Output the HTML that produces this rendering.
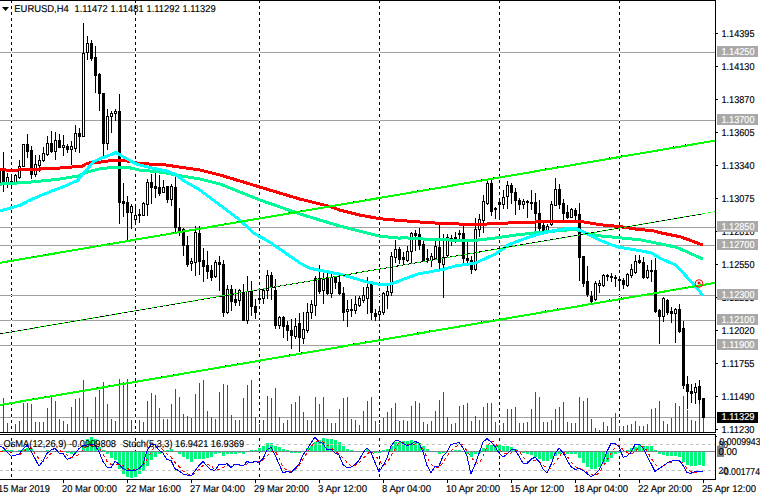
<!DOCTYPE html><html><head><meta charset="utf-8"><style>html,body{margin:0;padding:0;background:#fff;width:760px;height:498px;overflow:hidden}</style></head><body><svg width="760" height="498" viewBox="0 0 760 498" style="display:block;text-rendering:geometricPrecision">
<rect x="0" y="0" width="760" height="498" fill="#ffffff"/>
<g shape-rendering="crispEdges">
<line x1="11.5" y1="0" x2="11.5" y2="432" stroke="#000" stroke-width="1" stroke-dasharray="3 3"/>
<line x1="11.5" y1="438" x2="11.5" y2="478" stroke="#000" stroke-width="1" stroke-dasharray="3 3"/>
<line x1="135.5" y1="0" x2="135.5" y2="432" stroke="#000" stroke-width="1" stroke-dasharray="3 3"/>
<line x1="135.5" y1="438" x2="135.5" y2="478" stroke="#000" stroke-width="1" stroke-dasharray="3 3"/>
<line x1="259.5" y1="0" x2="259.5" y2="432" stroke="#000" stroke-width="1" stroke-dasharray="3 3"/>
<line x1="259.5" y1="438" x2="259.5" y2="478" stroke="#000" stroke-width="1" stroke-dasharray="3 3"/>
<line x1="379.5" y1="0" x2="379.5" y2="432" stroke="#000" stroke-width="1" stroke-dasharray="3 3"/>
<line x1="379.5" y1="438" x2="379.5" y2="478" stroke="#000" stroke-width="1" stroke-dasharray="3 3"/>
<line x1="499.5" y1="0" x2="499.5" y2="432" stroke="#000" stroke-width="1" stroke-dasharray="3 3"/>
<line x1="499.5" y1="438" x2="499.5" y2="478" stroke="#000" stroke-width="1" stroke-dasharray="3 3"/>
<line x1="619.5" y1="0" x2="619.5" y2="432" stroke="#000" stroke-width="1" stroke-dasharray="3 3"/>
<line x1="619.5" y1="438" x2="619.5" y2="478" stroke="#000" stroke-width="1" stroke-dasharray="3 3"/>
<rect x="0" y="52" width="715" height="1" fill="#a0a0a0"/>
<rect x="11" y="52" width="1" height="1" fill="#fff"/>
<rect x="135" y="52" width="1" height="1" fill="#fff"/>
<rect x="259" y="52" width="1" height="1" fill="#fff"/>
<rect x="379" y="52" width="1" height="1" fill="#fff"/>
<rect x="499" y="52" width="1" height="1" fill="#fff"/>
<rect x="619" y="52" width="1" height="1" fill="#fff"/>
<rect x="0" y="120" width="715" height="1" fill="#a0a0a0"/>
<rect x="11" y="120" width="1" height="1" fill="#fff"/>
<rect x="135" y="120" width="1" height="1" fill="#fff"/>
<rect x="259" y="120" width="1" height="1" fill="#fff"/>
<rect x="379" y="120" width="1" height="1" fill="#fff"/>
<rect x="499" y="120" width="1" height="1" fill="#fff"/>
<rect x="619" y="120" width="1" height="1" fill="#fff"/>
<rect x="0" y="227" width="715" height="1" fill="#a0a0a0"/>
<rect x="11" y="227" width="1" height="1" fill="#fff"/>
<rect x="135" y="227" width="1" height="1" fill="#fff"/>
<rect x="259" y="227" width="1" height="1" fill="#fff"/>
<rect x="379" y="227" width="1" height="1" fill="#fff"/>
<rect x="499" y="227" width="1" height="1" fill="#fff"/>
<rect x="619" y="227" width="1" height="1" fill="#fff"/>
<rect x="0" y="245" width="715" height="1" fill="#a0a0a0"/>
<rect x="11" y="245" width="1" height="1" fill="#fff"/>
<rect x="135" y="245" width="1" height="1" fill="#fff"/>
<rect x="259" y="245" width="1" height="1" fill="#fff"/>
<rect x="379" y="245" width="1" height="1" fill="#fff"/>
<rect x="499" y="245" width="1" height="1" fill="#fff"/>
<rect x="619" y="245" width="1" height="1" fill="#fff"/>
<rect x="0" y="295" width="715" height="1" fill="#a0a0a0"/>
<rect x="11" y="295" width="1" height="1" fill="#fff"/>
<rect x="135" y="295" width="1" height="1" fill="#fff"/>
<rect x="259" y="295" width="1" height="1" fill="#fff"/>
<rect x="379" y="295" width="1" height="1" fill="#fff"/>
<rect x="499" y="295" width="1" height="1" fill="#fff"/>
<rect x="619" y="295" width="1" height="1" fill="#fff"/>
<rect x="0" y="320" width="715" height="1" fill="#a0a0a0"/>
<rect x="11" y="320" width="1" height="1" fill="#fff"/>
<rect x="135" y="320" width="1" height="1" fill="#fff"/>
<rect x="259" y="320" width="1" height="1" fill="#fff"/>
<rect x="379" y="320" width="1" height="1" fill="#fff"/>
<rect x="499" y="320" width="1" height="1" fill="#fff"/>
<rect x="619" y="320" width="1" height="1" fill="#fff"/>
<rect x="0" y="345" width="715" height="1" fill="#a0a0a0"/>
<rect x="11" y="345" width="1" height="1" fill="#fff"/>
<rect x="135" y="345" width="1" height="1" fill="#fff"/>
<rect x="259" y="345" width="1" height="1" fill="#fff"/>
<rect x="379" y="345" width="1" height="1" fill="#fff"/>
<rect x="499" y="345" width="1" height="1" fill="#fff"/>
<rect x="619" y="345" width="1" height="1" fill="#fff"/>
<rect x="0" y="417" width="715" height="1" fill="#a0a0a0"/>
<rect x="11" y="417" width="1" height="1" fill="#fff"/>
<rect x="135" y="417" width="1" height="1" fill="#fff"/>
<rect x="259" y="417" width="1" height="1" fill="#fff"/>
<rect x="379" y="417" width="1" height="1" fill="#fff"/>
<rect x="499" y="417" width="1" height="1" fill="#fff"/>
<rect x="619" y="417" width="1" height="1" fill="#fff"/>
<rect x="3" y="398" width="1" height="34" fill="#008000"/>
<rect x="7" y="423" width="1" height="9" fill="#008000"/>
<rect x="15" y="424" width="1" height="8" fill="#008000"/>
<rect x="19" y="421" width="1" height="11" fill="#008000"/>
<rect x="23" y="403" width="1" height="29" fill="#008000"/>
<rect x="27" y="403" width="1" height="29" fill="#008000"/>
<rect x="31" y="404" width="1" height="28" fill="#008000"/>
<rect x="35" y="422" width="1" height="10" fill="#008000"/>
<rect x="39" y="422" width="1" height="10" fill="#008000"/>
<rect x="43" y="422" width="1" height="10" fill="#008000"/>
<rect x="47" y="408" width="1" height="24" fill="#008000"/>
<rect x="51" y="397" width="1" height="35" fill="#008000"/>
<rect x="55" y="401" width="1" height="31" fill="#008000"/>
<rect x="59" y="419" width="1" height="13" fill="#008000"/>
<rect x="63" y="421" width="1" height="11" fill="#008000"/>
<rect x="67" y="424" width="1" height="8" fill="#008000"/>
<rect x="71" y="407" width="1" height="25" fill="#008000"/>
<rect x="75" y="399" width="1" height="33" fill="#008000"/>
<rect x="79" y="398" width="1" height="34" fill="#008000"/>
<rect x="83" y="380" width="1" height="52" fill="#008000"/>
<rect x="87" y="417" width="1" height="15" fill="#008000"/>
<rect x="91" y="419" width="1" height="13" fill="#008000"/>
<rect x="95" y="397" width="1" height="35" fill="#008000"/>
<rect x="99" y="390" width="1" height="42" fill="#008000"/>
<rect x="103" y="382" width="1" height="50" fill="#008000"/>
<rect x="107" y="404" width="1" height="28" fill="#008000"/>
<rect x="111" y="419" width="1" height="13" fill="#008000"/>
<rect x="115" y="421" width="1" height="11" fill="#008000"/>
<rect x="119" y="379" width="1" height="53" fill="#008000"/>
<rect x="123" y="382" width="1" height="50" fill="#008000"/>
<rect x="127" y="379" width="1" height="53" fill="#008000"/>
<rect x="131" y="420" width="1" height="12" fill="#008000"/>
<rect x="135" y="431" width="1" height="1" fill="#008000"/>
<rect x="139" y="420" width="1" height="12" fill="#008000"/>
<rect x="143" y="422" width="1" height="10" fill="#008000"/>
<rect x="147" y="401" width="1" height="31" fill="#008000"/>
<rect x="151" y="393" width="1" height="39" fill="#008000"/>
<rect x="155" y="395" width="1" height="37" fill="#008000"/>
<rect x="159" y="408" width="1" height="24" fill="#008000"/>
<rect x="163" y="419" width="1" height="13" fill="#008000"/>
<rect x="167" y="419" width="1" height="13" fill="#008000"/>
<rect x="171" y="404" width="1" height="28" fill="#008000"/>
<rect x="175" y="389" width="1" height="43" fill="#008000"/>
<rect x="179" y="397" width="1" height="35" fill="#008000"/>
<rect x="183" y="414" width="1" height="18" fill="#008000"/>
<rect x="187" y="416" width="1" height="16" fill="#008000"/>
<rect x="191" y="418" width="1" height="14" fill="#008000"/>
<rect x="195" y="394" width="1" height="38" fill="#008000"/>
<rect x="199" y="383" width="1" height="49" fill="#008000"/>
<rect x="203" y="380" width="1" height="52" fill="#008000"/>
<rect x="207" y="411" width="1" height="21" fill="#008000"/>
<rect x="211" y="417" width="1" height="15" fill="#008000"/>
<rect x="215" y="419" width="1" height="13" fill="#008000"/>
<rect x="219" y="392" width="1" height="40" fill="#008000"/>
<rect x="223" y="384" width="1" height="48" fill="#008000"/>
<rect x="227" y="385" width="1" height="47" fill="#008000"/>
<rect x="231" y="415" width="1" height="17" fill="#008000"/>
<rect x="235" y="420" width="1" height="12" fill="#008000"/>
<rect x="239" y="420" width="1" height="12" fill="#008000"/>
<rect x="243" y="398" width="1" height="34" fill="#008000"/>
<rect x="247" y="385" width="1" height="47" fill="#008000"/>
<rect x="251" y="380" width="1" height="52" fill="#008000"/>
<rect x="255" y="417" width="1" height="15" fill="#008000"/>
<rect x="259" y="424" width="1" height="8" fill="#008000"/>
<rect x="263" y="420" width="1" height="12" fill="#008000"/>
<rect x="267" y="396" width="1" height="36" fill="#008000"/>
<rect x="271" y="398" width="1" height="34" fill="#008000"/>
<rect x="275" y="388" width="1" height="44" fill="#008000"/>
<rect x="279" y="417" width="1" height="15" fill="#008000"/>
<rect x="283" y="423" width="1" height="9" fill="#008000"/>
<rect x="287" y="420" width="1" height="12" fill="#008000"/>
<rect x="291" y="404" width="1" height="28" fill="#008000"/>
<rect x="295" y="402" width="1" height="30" fill="#008000"/>
<rect x="299" y="396" width="1" height="36" fill="#008000"/>
<rect x="303" y="412" width="1" height="20" fill="#008000"/>
<rect x="307" y="420" width="1" height="12" fill="#008000"/>
<rect x="311" y="420" width="1" height="12" fill="#008000"/>
<rect x="315" y="397" width="1" height="35" fill="#008000"/>
<rect x="319" y="404" width="1" height="28" fill="#008000"/>
<rect x="323" y="397" width="1" height="35" fill="#008000"/>
<rect x="327" y="419" width="1" height="13" fill="#008000"/>
<rect x="331" y="423" width="1" height="9" fill="#008000"/>
<rect x="335" y="423" width="1" height="9" fill="#008000"/>
<rect x="339" y="409" width="1" height="23" fill="#008000"/>
<rect x="343" y="398" width="1" height="34" fill="#008000"/>
<rect x="347" y="397" width="1" height="35" fill="#008000"/>
<rect x="351" y="419" width="1" height="13" fill="#008000"/>
<rect x="355" y="420" width="1" height="12" fill="#008000"/>
<rect x="359" y="425" width="1" height="7" fill="#008000"/>
<rect x="363" y="411" width="1" height="21" fill="#008000"/>
<rect x="367" y="401" width="1" height="31" fill="#008000"/>
<rect x="371" y="397" width="1" height="35" fill="#008000"/>
<rect x="375" y="421" width="1" height="11" fill="#008000"/>
<rect x="379" y="424" width="1" height="8" fill="#008000"/>
<rect x="383" y="418" width="1" height="14" fill="#008000"/>
<rect x="387" y="412" width="1" height="20" fill="#008000"/>
<rect x="391" y="408" width="1" height="24" fill="#008000"/>
<rect x="395" y="403" width="1" height="29" fill="#008000"/>
<rect x="399" y="421" width="1" height="11" fill="#008000"/>
<rect x="403" y="420" width="1" height="12" fill="#008000"/>
<rect x="407" y="421" width="1" height="11" fill="#008000"/>
<rect x="411" y="406" width="1" height="26" fill="#008000"/>
<rect x="415" y="401" width="1" height="31" fill="#008000"/>
<rect x="419" y="403" width="1" height="29" fill="#008000"/>
<rect x="423" y="422" width="1" height="10" fill="#008000"/>
<rect x="427" y="424" width="1" height="8" fill="#008000"/>
<rect x="431" y="421" width="1" height="11" fill="#008000"/>
<rect x="435" y="411" width="1" height="21" fill="#008000"/>
<rect x="439" y="400" width="1" height="32" fill="#008000"/>
<rect x="443" y="392" width="1" height="40" fill="#008000"/>
<rect x="447" y="417" width="1" height="15" fill="#008000"/>
<rect x="451" y="424" width="1" height="8" fill="#008000"/>
<rect x="455" y="423" width="1" height="9" fill="#008000"/>
<rect x="459" y="406" width="1" height="26" fill="#008000"/>
<rect x="463" y="405" width="1" height="27" fill="#008000"/>
<rect x="467" y="403" width="1" height="29" fill="#008000"/>
<rect x="471" y="421" width="1" height="11" fill="#008000"/>
<rect x="475" y="416" width="1" height="16" fill="#008000"/>
<rect x="479" y="420" width="1" height="12" fill="#008000"/>
<rect x="483" y="407" width="1" height="25" fill="#008000"/>
<rect x="487" y="403" width="1" height="29" fill="#008000"/>
<rect x="491" y="403" width="1" height="29" fill="#008000"/>
<rect x="495" y="422" width="1" height="10" fill="#008000"/>
<rect x="499" y="425" width="1" height="7" fill="#008000"/>
<rect x="503" y="423" width="1" height="9" fill="#008000"/>
<rect x="507" y="409" width="1" height="23" fill="#008000"/>
<rect x="511" y="409" width="1" height="23" fill="#008000"/>
<rect x="515" y="407" width="1" height="25" fill="#008000"/>
<rect x="519" y="423" width="1" height="9" fill="#008000"/>
<rect x="523" y="423" width="1" height="9" fill="#008000"/>
<rect x="527" y="422" width="1" height="10" fill="#008000"/>
<rect x="531" y="409" width="1" height="23" fill="#008000"/>
<rect x="535" y="392" width="1" height="40" fill="#008000"/>
<rect x="539" y="397" width="1" height="35" fill="#008000"/>
<rect x="543" y="422" width="1" height="10" fill="#008000"/>
<rect x="547" y="422" width="1" height="10" fill="#008000"/>
<rect x="551" y="420" width="1" height="12" fill="#008000"/>
<rect x="555" y="409" width="1" height="23" fill="#008000"/>
<rect x="559" y="407" width="1" height="25" fill="#008000"/>
<rect x="563" y="402" width="1" height="30" fill="#008000"/>
<rect x="567" y="422" width="1" height="10" fill="#008000"/>
<rect x="571" y="423" width="1" height="9" fill="#008000"/>
<rect x="575" y="423" width="1" height="9" fill="#008000"/>
<rect x="579" y="397" width="1" height="35" fill="#008000"/>
<rect x="583" y="401" width="1" height="31" fill="#008000"/>
<rect x="587" y="398" width="1" height="34" fill="#008000"/>
<rect x="591" y="419" width="1" height="13" fill="#008000"/>
<rect x="595" y="428" width="1" height="4" fill="#008000"/>
<rect x="599" y="430" width="1" height="2" fill="#008000"/>
<rect x="603" y="422" width="1" height="10" fill="#008000"/>
<rect x="607" y="426" width="1" height="6" fill="#008000"/>
<rect x="611" y="418" width="1" height="14" fill="#008000"/>
<rect x="615" y="413" width="1" height="19" fill="#008000"/>
<rect x="619" y="426" width="1" height="6" fill="#008000"/>
<rect x="623" y="426" width="1" height="6" fill="#008000"/>
<rect x="627" y="425" width="1" height="7" fill="#008000"/>
<rect x="631" y="424" width="1" height="8" fill="#008000"/>
<rect x="635" y="421" width="1" height="11" fill="#008000"/>
<rect x="639" y="426" width="1" height="6" fill="#008000"/>
<rect x="643" y="426" width="1" height="6" fill="#008000"/>
<rect x="647" y="424" width="1" height="8" fill="#008000"/>
<rect x="651" y="409" width="1" height="23" fill="#008000"/>
<rect x="655" y="408" width="1" height="24" fill="#008000"/>
<rect x="659" y="401" width="1" height="31" fill="#008000"/>
<rect x="663" y="421" width="1" height="11" fill="#008000"/>
<rect x="667" y="424" width="1" height="8" fill="#008000"/>
<rect x="671" y="418" width="1" height="14" fill="#008000"/>
<rect x="675" y="403" width="1" height="29" fill="#008000"/>
<rect x="679" y="406" width="1" height="26" fill="#008000"/>
<rect x="683" y="396" width="1" height="36" fill="#008000"/>
<rect x="687" y="410" width="1" height="22" fill="#008000"/>
<rect x="691" y="420" width="1" height="12" fill="#008000"/>
<rect x="695" y="421" width="1" height="11" fill="#008000"/>
<rect x="699" y="403" width="1" height="29" fill="#008000"/>
<rect x="703" y="418" width="1" height="14" fill="#008000"/>
<rect x="-1" y="160" width="1" height="29" fill="#000"/>
<rect x="-2" y="170" width="3" height="13" fill="#000"/>
<rect x="3" y="152" width="1" height="40" fill="#000"/>
<rect x="2" y="171" width="3" height="12" fill="#000"/>
<rect x="7" y="173" width="1" height="15" fill="#000"/>
<rect x="6" y="177" width="3" height="6" fill="#000"/>
<rect x="7" y="178" width="1" height="4" fill="#fff"/>
<rect x="11" y="176" width="1" height="13" fill="#000"/>
<rect x="10" y="181" width="3" height="3" fill="#000"/>
<rect x="11" y="182" width="1" height="1" fill="#fff"/>
<rect x="15" y="174" width="1" height="10" fill="#000"/>
<rect x="14" y="175" width="3" height="8" fill="#000"/>
<rect x="15" y="176" width="1" height="6" fill="#fff"/>
<rect x="19" y="160" width="1" height="19" fill="#000"/>
<rect x="18" y="166" width="3" height="12" fill="#000"/>
<rect x="19" y="167" width="1" height="10" fill="#fff"/>
<rect x="23" y="144" width="1" height="23" fill="#000"/>
<rect x="22" y="144" width="3" height="23" fill="#000"/>
<rect x="23" y="145" width="1" height="21" fill="#fff"/>
<rect x="27" y="134" width="1" height="24" fill="#000"/>
<rect x="26" y="144" width="3" height="8" fill="#000"/>
<rect x="31" y="146" width="1" height="33" fill="#000"/>
<rect x="30" y="150" width="3" height="25" fill="#000"/>
<rect x="35" y="155" width="1" height="22" fill="#000"/>
<rect x="34" y="164" width="3" height="11" fill="#000"/>
<rect x="35" y="165" width="1" height="9" fill="#fff"/>
<rect x="39" y="155" width="1" height="17" fill="#000"/>
<rect x="38" y="160" width="3" height="6" fill="#000"/>
<rect x="39" y="161" width="1" height="4" fill="#fff"/>
<rect x="43" y="147" width="1" height="15" fill="#000"/>
<rect x="42" y="153" width="3" height="8" fill="#000"/>
<rect x="43" y="154" width="1" height="6" fill="#fff"/>
<rect x="47" y="136" width="1" height="20" fill="#000"/>
<rect x="46" y="143" width="3" height="12" fill="#000"/>
<rect x="47" y="144" width="1" height="10" fill="#fff"/>
<rect x="51" y="131" width="1" height="22" fill="#000"/>
<rect x="50" y="143" width="3" height="9" fill="#000"/>
<rect x="55" y="132" width="1" height="28" fill="#000"/>
<rect x="54" y="140" width="3" height="12" fill="#000"/>
<rect x="55" y="141" width="1" height="10" fill="#fff"/>
<rect x="59" y="134" width="1" height="14" fill="#000"/>
<rect x="58" y="140" width="3" height="8" fill="#000"/>
<rect x="63" y="135" width="1" height="21" fill="#000"/>
<rect x="62" y="145" width="3" height="3" fill="#000"/>
<rect x="63" y="146" width="1" height="1" fill="#fff"/>
<rect x="67" y="144" width="1" height="9" fill="#000"/>
<rect x="66" y="146" width="3" height="4" fill="#000"/>
<rect x="71" y="141" width="1" height="24" fill="#000"/>
<rect x="70" y="146" width="3" height="4" fill="#000"/>
<rect x="71" y="147" width="1" height="2" fill="#fff"/>
<rect x="75" y="125" width="1" height="27" fill="#000"/>
<rect x="74" y="133" width="3" height="16" fill="#000"/>
<rect x="75" y="134" width="1" height="14" fill="#fff"/>
<rect x="79" y="128" width="1" height="25" fill="#000"/>
<rect x="78" y="133" width="3" height="4" fill="#000"/>
<rect x="83" y="23" width="1" height="114" fill="#000"/>
<rect x="82" y="53" width="3" height="84" fill="#000"/>
<rect x="83" y="54" width="1" height="82" fill="#fff"/>
<rect x="87" y="36" width="1" height="24" fill="#000"/>
<rect x="86" y="43" width="3" height="10" fill="#000"/>
<rect x="87" y="44" width="1" height="8" fill="#fff"/>
<rect x="91" y="40" width="1" height="21" fill="#000"/>
<rect x="90" y="43" width="3" height="16" fill="#000"/>
<rect x="95" y="46" width="1" height="47" fill="#000"/>
<rect x="94" y="57" width="3" height="19" fill="#000"/>
<rect x="99" y="73" width="1" height="38" fill="#000"/>
<rect x="98" y="74" width="3" height="20" fill="#000"/>
<rect x="103" y="93" width="1" height="64" fill="#000"/>
<rect x="102" y="93" width="3" height="51" fill="#000"/>
<rect x="107" y="109" width="1" height="41" fill="#000"/>
<rect x="106" y="116" width="3" height="28" fill="#000"/>
<rect x="107" y="117" width="1" height="26" fill="#fff"/>
<rect x="111" y="111" width="1" height="22" fill="#000"/>
<rect x="110" y="113" width="3" height="4" fill="#000"/>
<rect x="111" y="114" width="1" height="2" fill="#fff"/>
<rect x="115" y="109" width="1" height="12" fill="#000"/>
<rect x="114" y="111" width="3" height="3" fill="#000"/>
<rect x="115" y="112" width="1" height="1" fill="#fff"/>
<rect x="119" y="94" width="1" height="130" fill="#000"/>
<rect x="118" y="111" width="3" height="92" fill="#000"/>
<rect x="123" y="183" width="1" height="34" fill="#000"/>
<rect x="122" y="201" width="3" height="3" fill="#000"/>
<rect x="127" y="196" width="1" height="45" fill="#000"/>
<rect x="126" y="202" width="3" height="11" fill="#000"/>
<rect x="131" y="204" width="1" height="25" fill="#000"/>
<rect x="130" y="206" width="3" height="7" fill="#000"/>
<rect x="131" y="207" width="1" height="5" fill="#fff"/>
<rect x="135" y="204" width="1" height="21" fill="#000"/>
<rect x="134" y="215" width="3" height="5" fill="#000"/>
<rect x="135" y="216" width="1" height="3" fill="#fff"/>
<rect x="139" y="209" width="1" height="14" fill="#000"/>
<rect x="138" y="214" width="3" height="2" fill="#000"/>
<rect x="143" y="202" width="1" height="14" fill="#000"/>
<rect x="142" y="203" width="3" height="13" fill="#000"/>
<rect x="143" y="204" width="1" height="11" fill="#fff"/>
<rect x="147" y="179" width="1" height="37" fill="#000"/>
<rect x="146" y="182" width="3" height="23" fill="#000"/>
<rect x="147" y="183" width="1" height="21" fill="#fff"/>
<rect x="151" y="174" width="1" height="30" fill="#000"/>
<rect x="150" y="182" width="3" height="6" fill="#000"/>
<rect x="155" y="173" width="1" height="25" fill="#000"/>
<rect x="154" y="186" width="3" height="3" fill="#000"/>
<rect x="159" y="175" width="1" height="21" fill="#000"/>
<rect x="158" y="187" width="3" height="7" fill="#000"/>
<rect x="163" y="180" width="1" height="13" fill="#000"/>
<rect x="162" y="187" width="3" height="6" fill="#000"/>
<rect x="163" y="188" width="1" height="4" fill="#fff"/>
<rect x="167" y="186" width="1" height="17" fill="#000"/>
<rect x="166" y="186" width="3" height="14" fill="#000"/>
<rect x="171" y="184" width="1" height="22" fill="#000"/>
<rect x="170" y="186" width="3" height="14" fill="#000"/>
<rect x="171" y="187" width="1" height="12" fill="#fff"/>
<rect x="175" y="176" width="1" height="57" fill="#000"/>
<rect x="174" y="187" width="3" height="41" fill="#000"/>
<rect x="179" y="208" width="1" height="28" fill="#000"/>
<rect x="178" y="227" width="3" height="4" fill="#000"/>
<rect x="183" y="228" width="1" height="28" fill="#000"/>
<rect x="182" y="229" width="3" height="17" fill="#000"/>
<rect x="187" y="236" width="1" height="31" fill="#000"/>
<rect x="186" y="245" width="3" height="20" fill="#000"/>
<rect x="191" y="258" width="1" height="13" fill="#000"/>
<rect x="190" y="261" width="3" height="3" fill="#000"/>
<rect x="191" y="262" width="1" height="1" fill="#fff"/>
<rect x="195" y="226" width="1" height="50" fill="#000"/>
<rect x="194" y="232" width="3" height="31" fill="#000"/>
<rect x="195" y="233" width="1" height="29" fill="#fff"/>
<rect x="199" y="226" width="1" height="49" fill="#000"/>
<rect x="198" y="233" width="3" height="29" fill="#000"/>
<rect x="203" y="248" width="1" height="34" fill="#000"/>
<rect x="202" y="260" width="3" height="7" fill="#000"/>
<rect x="207" y="251" width="1" height="28" fill="#000"/>
<rect x="206" y="265" width="3" height="7" fill="#000"/>
<rect x="211" y="265" width="1" height="16" fill="#000"/>
<rect x="210" y="270" width="3" height="8" fill="#000"/>
<rect x="215" y="260" width="1" height="18" fill="#000"/>
<rect x="214" y="262" width="3" height="15" fill="#000"/>
<rect x="215" y="263" width="1" height="13" fill="#fff"/>
<rect x="219" y="256" width="1" height="35" fill="#000"/>
<rect x="218" y="262" width="3" height="3" fill="#000"/>
<rect x="223" y="260" width="1" height="57" fill="#000"/>
<rect x="222" y="264" width="3" height="49" fill="#000"/>
<rect x="227" y="285" width="1" height="29" fill="#000"/>
<rect x="226" y="289" width="3" height="24" fill="#000"/>
<rect x="227" y="290" width="1" height="22" fill="#fff"/>
<rect x="231" y="285" width="1" height="26" fill="#000"/>
<rect x="230" y="289" width="3" height="13" fill="#000"/>
<rect x="235" y="289" width="1" height="17" fill="#000"/>
<rect x="234" y="299" width="3" height="4" fill="#000"/>
<rect x="239" y="289" width="1" height="17" fill="#000"/>
<rect x="238" y="290" width="3" height="11" fill="#000"/>
<rect x="239" y="291" width="1" height="9" fill="#fff"/>
<rect x="243" y="284" width="1" height="37" fill="#000"/>
<rect x="242" y="292" width="3" height="29" fill="#000"/>
<rect x="247" y="276" width="1" height="48" fill="#000"/>
<rect x="246" y="291" width="3" height="30" fill="#000"/>
<rect x="247" y="292" width="1" height="28" fill="#fff"/>
<rect x="251" y="281" width="1" height="35" fill="#000"/>
<rect x="250" y="291" width="3" height="16" fill="#000"/>
<rect x="255" y="299" width="1" height="20" fill="#000"/>
<rect x="254" y="306" width="3" height="7" fill="#000"/>
<rect x="259" y="290" width="1" height="14" fill="#000"/>
<rect x="258" y="298" width="3" height="2" fill="#000"/>
<rect x="263" y="288" width="1" height="16" fill="#000"/>
<rect x="262" y="290" width="3" height="9" fill="#000"/>
<rect x="263" y="291" width="1" height="7" fill="#fff"/>
<rect x="267" y="270" width="1" height="29" fill="#000"/>
<rect x="266" y="275" width="3" height="16" fill="#000"/>
<rect x="267" y="276" width="1" height="14" fill="#fff"/>
<rect x="271" y="272" width="1" height="28" fill="#000"/>
<rect x="270" y="275" width="3" height="13" fill="#000"/>
<rect x="275" y="279" width="1" height="50" fill="#000"/>
<rect x="274" y="290" width="3" height="36" fill="#000"/>
<rect x="279" y="316" width="1" height="13" fill="#000"/>
<rect x="278" y="317" width="3" height="9" fill="#000"/>
<rect x="279" y="318" width="1" height="7" fill="#fff"/>
<rect x="283" y="316" width="1" height="22" fill="#000"/>
<rect x="282" y="317" width="3" height="10" fill="#000"/>
<rect x="287" y="321" width="1" height="20" fill="#000"/>
<rect x="286" y="325" width="3" height="6" fill="#000"/>
<rect x="291" y="319" width="1" height="30" fill="#000"/>
<rect x="290" y="330" width="3" height="6" fill="#000"/>
<rect x="295" y="318" width="1" height="21" fill="#000"/>
<rect x="294" y="326" width="3" height="11" fill="#000"/>
<rect x="295" y="327" width="1" height="9" fill="#fff"/>
<rect x="299" y="313" width="1" height="39" fill="#000"/>
<rect x="298" y="323" width="3" height="15" fill="#000"/>
<rect x="303" y="312" width="1" height="32" fill="#000"/>
<rect x="302" y="329" width="3" height="10" fill="#000"/>
<rect x="303" y="330" width="1" height="8" fill="#fff"/>
<rect x="307" y="303" width="1" height="30" fill="#000"/>
<rect x="306" y="312" width="3" height="19" fill="#000"/>
<rect x="307" y="313" width="1" height="17" fill="#fff"/>
<rect x="311" y="300" width="1" height="19" fill="#000"/>
<rect x="310" y="304" width="3" height="9" fill="#000"/>
<rect x="311" y="305" width="1" height="7" fill="#fff"/>
<rect x="315" y="276" width="1" height="40" fill="#000"/>
<rect x="314" y="278" width="3" height="28" fill="#000"/>
<rect x="315" y="279" width="1" height="26" fill="#fff"/>
<rect x="319" y="265" width="1" height="29" fill="#000"/>
<rect x="318" y="278" width="3" height="14" fill="#000"/>
<rect x="323" y="272" width="1" height="32" fill="#000"/>
<rect x="322" y="279" width="3" height="12" fill="#000"/>
<rect x="323" y="280" width="1" height="10" fill="#fff"/>
<rect x="327" y="273" width="1" height="22" fill="#000"/>
<rect x="326" y="277" width="3" height="17" fill="#000"/>
<rect x="331" y="273" width="1" height="25" fill="#000"/>
<rect x="330" y="277" width="3" height="17" fill="#000"/>
<rect x="331" y="278" width="1" height="15" fill="#fff"/>
<rect x="335" y="276" width="1" height="13" fill="#000"/>
<rect x="334" y="276" width="3" height="7" fill="#000"/>
<rect x="339" y="275" width="1" height="20" fill="#000"/>
<rect x="338" y="282" width="3" height="12" fill="#000"/>
<rect x="343" y="287" width="1" height="34" fill="#000"/>
<rect x="342" y="293" width="3" height="20" fill="#000"/>
<rect x="347" y="300" width="1" height="27" fill="#000"/>
<rect x="346" y="309" width="3" height="3" fill="#000"/>
<rect x="347" y="310" width="1" height="1" fill="#fff"/>
<rect x="351" y="299" width="1" height="18" fill="#000"/>
<rect x="350" y="309" width="3" height="2" fill="#000"/>
<rect x="355" y="296" width="1" height="18" fill="#000"/>
<rect x="354" y="304" width="3" height="7" fill="#000"/>
<rect x="355" y="305" width="1" height="5" fill="#fff"/>
<rect x="359" y="296" width="1" height="11" fill="#000"/>
<rect x="358" y="298" width="3" height="8" fill="#000"/>
<rect x="359" y="299" width="1" height="6" fill="#fff"/>
<rect x="363" y="287" width="1" height="16" fill="#000"/>
<rect x="362" y="295" width="3" height="6" fill="#000"/>
<rect x="363" y="296" width="1" height="4" fill="#fff"/>
<rect x="367" y="277" width="1" height="37" fill="#000"/>
<rect x="366" y="287" width="3" height="12" fill="#000"/>
<rect x="367" y="288" width="1" height="10" fill="#fff"/>
<rect x="371" y="283" width="1" height="37" fill="#000"/>
<rect x="370" y="284" width="3" height="29" fill="#000"/>
<rect x="375" y="309" width="1" height="12" fill="#000"/>
<rect x="374" y="313" width="3" height="4" fill="#000"/>
<rect x="379" y="306" width="1" height="15" fill="#000"/>
<rect x="378" y="311" width="3" height="4" fill="#000"/>
<rect x="379" y="312" width="1" height="2" fill="#fff"/>
<rect x="383" y="292" width="1" height="23" fill="#000"/>
<rect x="382" y="293" width="3" height="20" fill="#000"/>
<rect x="383" y="294" width="1" height="18" fill="#fff"/>
<rect x="387" y="286" width="1" height="23" fill="#000"/>
<rect x="386" y="291" width="3" height="5" fill="#000"/>
<rect x="387" y="292" width="1" height="3" fill="#fff"/>
<rect x="391" y="252" width="1" height="44" fill="#000"/>
<rect x="390" y="256" width="3" height="37" fill="#000"/>
<rect x="391" y="257" width="1" height="35" fill="#fff"/>
<rect x="395" y="240" width="1" height="23" fill="#000"/>
<rect x="394" y="249" width="3" height="9" fill="#000"/>
<rect x="395" y="250" width="1" height="7" fill="#fff"/>
<rect x="399" y="247" width="1" height="17" fill="#000"/>
<rect x="398" y="249" width="3" height="11" fill="#000"/>
<rect x="403" y="252" width="1" height="12" fill="#000"/>
<rect x="402" y="257" width="3" height="3" fill="#000"/>
<rect x="407" y="246" width="1" height="16" fill="#000"/>
<rect x="406" y="251" width="3" height="10" fill="#000"/>
<rect x="407" y="252" width="1" height="8" fill="#fff"/>
<rect x="411" y="232" width="1" height="31" fill="#000"/>
<rect x="410" y="233" width="3" height="19" fill="#000"/>
<rect x="411" y="234" width="1" height="17" fill="#fff"/>
<rect x="415" y="230" width="1" height="21" fill="#000"/>
<rect x="414" y="233" width="3" height="3" fill="#000"/>
<rect x="419" y="228" width="1" height="22" fill="#000"/>
<rect x="418" y="234" width="3" height="12" fill="#000"/>
<rect x="423" y="241" width="1" height="21" fill="#000"/>
<rect x="422" y="244" width="3" height="17" fill="#000"/>
<rect x="427" y="249" width="1" height="14" fill="#000"/>
<rect x="426" y="258" width="3" height="2" fill="#000"/>
<rect x="431" y="253" width="1" height="14" fill="#000"/>
<rect x="430" y="256" width="3" height="5" fill="#000"/>
<rect x="431" y="257" width="1" height="3" fill="#fff"/>
<rect x="435" y="241" width="1" height="19" fill="#000"/>
<rect x="434" y="246" width="3" height="13" fill="#000"/>
<rect x="435" y="247" width="1" height="11" fill="#fff"/>
<rect x="439" y="225" width="1" height="45" fill="#000"/>
<rect x="438" y="247" width="3" height="16" fill="#000"/>
<rect x="443" y="234" width="1" height="64" fill="#000"/>
<rect x="442" y="257" width="3" height="8" fill="#000"/>
<rect x="443" y="258" width="1" height="6" fill="#fff"/>
<rect x="447" y="234" width="1" height="24" fill="#000"/>
<rect x="446" y="237" width="3" height="19" fill="#000"/>
<rect x="447" y="238" width="1" height="17" fill="#fff"/>
<rect x="451" y="235" width="1" height="11" fill="#000"/>
<rect x="450" y="238" width="3" height="3" fill="#000"/>
<rect x="455" y="232" width="1" height="11" fill="#000"/>
<rect x="454" y="237" width="3" height="2" fill="#000"/>
<rect x="459" y="230" width="1" height="9" fill="#000"/>
<rect x="458" y="233" width="3" height="2" fill="#000"/>
<rect x="463" y="226" width="1" height="37" fill="#000"/>
<rect x="462" y="233" width="3" height="26" fill="#000"/>
<rect x="467" y="239" width="1" height="25" fill="#000"/>
<rect x="466" y="258" width="3" height="3" fill="#000"/>
<rect x="471" y="256" width="1" height="18" fill="#000"/>
<rect x="470" y="260" width="3" height="10" fill="#000"/>
<rect x="475" y="218" width="1" height="53" fill="#000"/>
<rect x="474" y="229" width="3" height="41" fill="#000"/>
<rect x="475" y="230" width="1" height="39" fill="#fff"/>
<rect x="479" y="214" width="1" height="23" fill="#000"/>
<rect x="478" y="219" width="3" height="11" fill="#000"/>
<rect x="479" y="220" width="1" height="9" fill="#fff"/>
<rect x="483" y="195" width="1" height="38" fill="#000"/>
<rect x="482" y="201" width="3" height="20" fill="#000"/>
<rect x="483" y="202" width="1" height="18" fill="#fff"/>
<rect x="487" y="180" width="1" height="25" fill="#000"/>
<rect x="486" y="183" width="3" height="21" fill="#000"/>
<rect x="487" y="184" width="1" height="19" fill="#fff"/>
<rect x="491" y="180" width="1" height="36" fill="#000"/>
<rect x="490" y="183" width="3" height="29" fill="#000"/>
<rect x="495" y="207" width="1" height="12" fill="#000"/>
<rect x="494" y="208" width="3" height="2" fill="#000"/>
<rect x="499" y="198" width="1" height="22" fill="#000"/>
<rect x="498" y="202" width="3" height="3" fill="#000"/>
<rect x="503" y="190" width="1" height="19" fill="#000"/>
<rect x="502" y="197" width="3" height="8" fill="#000"/>
<rect x="503" y="198" width="1" height="6" fill="#fff"/>
<rect x="507" y="181" width="1" height="28" fill="#000"/>
<rect x="506" y="185" width="3" height="12" fill="#000"/>
<rect x="507" y="186" width="1" height="10" fill="#fff"/>
<rect x="511" y="183" width="1" height="21" fill="#000"/>
<rect x="510" y="185" width="3" height="8" fill="#000"/>
<rect x="515" y="188" width="1" height="27" fill="#000"/>
<rect x="514" y="192" width="3" height="9" fill="#000"/>
<rect x="519" y="198" width="1" height="12" fill="#000"/>
<rect x="518" y="200" width="3" height="5" fill="#000"/>
<rect x="523" y="199" width="1" height="10" fill="#000"/>
<rect x="522" y="201" width="3" height="4" fill="#000"/>
<rect x="523" y="202" width="1" height="2" fill="#fff"/>
<rect x="527" y="200" width="1" height="18" fill="#000"/>
<rect x="526" y="201" width="3" height="2" fill="#000"/>
<rect x="531" y="190" width="1" height="20" fill="#000"/>
<rect x="530" y="202" width="3" height="2" fill="#000"/>
<rect x="535" y="193" width="1" height="40" fill="#000"/>
<rect x="534" y="202" width="3" height="12" fill="#000"/>
<rect x="539" y="200" width="1" height="32" fill="#000"/>
<rect x="538" y="213" width="3" height="16" fill="#000"/>
<rect x="543" y="221" width="1" height="12" fill="#000"/>
<rect x="542" y="225" width="3" height="6" fill="#000"/>
<rect x="547" y="224" width="1" height="10" fill="#000"/>
<rect x="546" y="226" width="3" height="5" fill="#000"/>
<rect x="547" y="227" width="1" height="3" fill="#fff"/>
<rect x="551" y="201" width="1" height="25" fill="#000"/>
<rect x="550" y="204" width="3" height="21" fill="#000"/>
<rect x="551" y="205" width="1" height="19" fill="#fff"/>
<rect x="555" y="178" width="1" height="28" fill="#000"/>
<rect x="554" y="189" width="3" height="17" fill="#000"/>
<rect x="555" y="190" width="1" height="15" fill="#fff"/>
<rect x="559" y="184" width="1" height="25" fill="#000"/>
<rect x="558" y="189" width="3" height="16" fill="#000"/>
<rect x="563" y="199" width="1" height="22" fill="#000"/>
<rect x="562" y="203" width="3" height="11" fill="#000"/>
<rect x="567" y="205" width="1" height="14" fill="#000"/>
<rect x="566" y="212" width="3" height="6" fill="#000"/>
<rect x="571" y="208" width="1" height="10" fill="#000"/>
<rect x="570" y="209" width="3" height="9" fill="#000"/>
<rect x="571" y="210" width="1" height="7" fill="#fff"/>
<rect x="575" y="208" width="1" height="13" fill="#000"/>
<rect x="574" y="210" width="3" height="6" fill="#000"/>
<rect x="579" y="203" width="1" height="78" fill="#000"/>
<rect x="578" y="214" width="3" height="44" fill="#000"/>
<rect x="583" y="256" width="1" height="31" fill="#000"/>
<rect x="582" y="256" width="3" height="28" fill="#000"/>
<rect x="587" y="266" width="1" height="31" fill="#000"/>
<rect x="586" y="281" width="3" height="14" fill="#000"/>
<rect x="591" y="291" width="1" height="13" fill="#000"/>
<rect x="590" y="296" width="3" height="6" fill="#000"/>
<rect x="595" y="281" width="1" height="20" fill="#000"/>
<rect x="594" y="283" width="3" height="17" fill="#000"/>
<rect x="595" y="284" width="1" height="15" fill="#fff"/>
<rect x="599" y="280" width="1" height="13" fill="#000"/>
<rect x="598" y="283" width="3" height="3" fill="#000"/>
<rect x="599" y="284" width="1" height="1" fill="#fff"/>
<rect x="603" y="274" width="1" height="13" fill="#000"/>
<rect x="602" y="275" width="3" height="11" fill="#000"/>
<rect x="603" y="276" width="1" height="9" fill="#fff"/>
<rect x="607" y="274" width="1" height="7" fill="#000"/>
<rect x="606" y="275" width="3" height="2" fill="#000"/>
<rect x="611" y="273" width="1" height="9" fill="#000"/>
<rect x="610" y="276" width="3" height="2" fill="#000"/>
<rect x="615" y="275" width="1" height="12" fill="#000"/>
<rect x="614" y="277" width="3" height="2" fill="#000"/>
<rect x="619" y="278" width="1" height="11" fill="#000"/>
<rect x="618" y="279" width="3" height="2" fill="#000"/>
<rect x="623" y="278" width="1" height="11" fill="#000"/>
<rect x="622" y="280" width="3" height="5" fill="#000"/>
<rect x="627" y="273" width="1" height="14" fill="#000"/>
<rect x="626" y="274" width="3" height="12" fill="#000"/>
<rect x="627" y="275" width="1" height="10" fill="#fff"/>
<rect x="631" y="264" width="1" height="14" fill="#000"/>
<rect x="630" y="269" width="3" height="7" fill="#000"/>
<rect x="631" y="270" width="1" height="5" fill="#fff"/>
<rect x="635" y="255" width="1" height="19" fill="#000"/>
<rect x="634" y="261" width="3" height="12" fill="#000"/>
<rect x="635" y="262" width="1" height="10" fill="#fff"/>
<rect x="639" y="255" width="1" height="9" fill="#000"/>
<rect x="638" y="260" width="3" height="3" fill="#000"/>
<rect x="643" y="257" width="1" height="22" fill="#000"/>
<rect x="642" y="262" width="3" height="16" fill="#000"/>
<rect x="647" y="265" width="1" height="14" fill="#000"/>
<rect x="646" y="270" width="3" height="8" fill="#000"/>
<rect x="647" y="271" width="1" height="6" fill="#fff"/>
<rect x="651" y="260" width="1" height="22" fill="#000"/>
<rect x="650" y="270" width="3" height="2" fill="#000"/>
<rect x="655" y="258" width="1" height="55" fill="#000"/>
<rect x="654" y="270" width="3" height="42" fill="#000"/>
<rect x="659" y="309" width="1" height="35" fill="#000"/>
<rect x="658" y="310" width="3" height="7" fill="#000"/>
<rect x="663" y="297" width="1" height="25" fill="#000"/>
<rect x="662" y="298" width="3" height="19" fill="#000"/>
<rect x="663" y="299" width="1" height="17" fill="#fff"/>
<rect x="667" y="299" width="1" height="16" fill="#000"/>
<rect x="666" y="300" width="3" height="13" fill="#000"/>
<rect x="671" y="307" width="1" height="16" fill="#000"/>
<rect x="670" y="311" width="3" height="3" fill="#000"/>
<rect x="675" y="308" width="1" height="35" fill="#000"/>
<rect x="674" y="309" width="3" height="5" fill="#000"/>
<rect x="675" y="310" width="1" height="3" fill="#fff"/>
<rect x="679" y="304" width="1" height="29" fill="#000"/>
<rect x="678" y="309" width="3" height="23" fill="#000"/>
<rect x="683" y="321" width="1" height="68" fill="#000"/>
<rect x="682" y="328" width="3" height="58" fill="#000"/>
<rect x="687" y="376" width="1" height="33" fill="#000"/>
<rect x="686" y="384" width="3" height="8" fill="#000"/>
<rect x="691" y="384" width="1" height="19" fill="#000"/>
<rect x="690" y="391" width="3" height="3" fill="#000"/>
<rect x="695" y="383" width="1" height="21" fill="#000"/>
<rect x="694" y="387" width="3" height="6" fill="#000"/>
<rect x="695" y="388" width="1" height="4" fill="#fff"/>
<rect x="699" y="380" width="1" height="24" fill="#000"/>
<rect x="698" y="386" width="3" height="14" fill="#000"/>
<rect x="703" y="398" width="1" height="20" fill="#000"/>
<rect x="702" y="398" width="3" height="20" fill="#000"/>
</g>
<polyline points="0,169.6 10,170.3 28,169.6 49,168.6 60,168 69,167.2 82,166.3 87,163.5 92,162.2 100,162.1 116,160 126,160.8 137,163 153,164.3 166,165 179,167 200,170 220,175 240,181 260,187.1 280,193.1 300,199.1 320,204 330,206.5 340,210.1 360,215.1 380,218.7 400,220.5 401,220.5 427,222.6 453,223.9 479,224.4 505,223.1 520,222.6 553,221.3 579,221.3 588,222.6 599,224.6 620,226.6 640,229.7 652,230.5 660,232.7 680,236.7 690,240.2 703,245.2" fill="none" stroke="#ff0000" stroke-width="3" stroke-linejoin="round" shape-rendering="crispEdges"/>
<polyline points="0,184.1 28,182.3 49,180.2 60,179 69,177.5 78,176.2 87,172.1 100,168.8 116,167 126,167 139,170 153,171.3 166,172.9 179,175.5 200,179 220,184 240,192 260,200 280,207 300,214 320,220.1 340,226.1 360,231.2 380,236.2 400,238.2 401,237.5 427,239.3 453,240.1 476,240.2 492,238.5 505,236.5 520,234.5 546,231.8 573,229.5 579,230.3 588,233.8 599,235.8 620,237.8 640,239.8 660,243.8 676,247.2 690,253.2 703,259.2" fill="none" stroke="#00fa9a" stroke-width="3" stroke-linejoin="round" shape-rendering="crispEdges"/>
<polyline points="0,211 14,207 21,204.8 28,201 42,195 56,189.3 60,188 69,184.3 78,180.3 82.6,174 87,169.4 93.4,161.7 100,158.6 108,155.8 116,152.5 126,158.4 137,164.3 153,168.3 166,170.9 174,173.6 184,180.8 200,190.1 220,205.2 240,220.2 254,233.3 270,242.3 300,263 310,268.3 320,270.3 340,274.3 341,274.4 354,278.2 367,282 379,284.2 386,285 393,283.3 405,278.7 418,274 431,271.6 443,269.5 456,265.8 469,264 476,262.9 483,259.6 496,253.7 509,244.5 520,240.4 533,235.8 546,232.5 559,229.5 573,228.2 579,229.5 586,233.2 599,239.7 612,245 620,247.4 640,250.6 652,253.2 660,258.2 676,265.3 690,280.3 703,295.4" fill="none" stroke="#00ffff" stroke-width="3" stroke-linejoin="round" shape-rendering="crispEdges"/>
<line x1="0" y1="262.8" x2="715" y2="140.68" stroke="#00ff00" stroke-width="2" shape-rendering="crispEdges"/>
<line x1="0" y1="405" x2="715" y2="282.88" stroke="#00ff00" stroke-width="2" shape-rendering="crispEdges"/>
<line x1="0" y1="333.9" x2="702" y2="214.00" stroke="#00ff00" stroke-width="1" shape-rendering="crispEdges"/>
<line x1="702" y1="214.00" x2="715" y2="211.78" stroke="#00ff00" stroke-width="1" stroke-dasharray="3 3" shape-rendering="crispEdges"/>
<line x1="0" y1="333.9" x2="702" y2="214.00" stroke="#000" stroke-width="1" stroke-dasharray="3 3" shape-rendering="crispEdges"/>
<rect x="33" y="256" width="1" height="1" fill="#000" shape-rendering="crispEdges"/>
<rect x="33" y="398" width="1" height="1" fill="#000" shape-rendering="crispEdges"/>
<rect x="45" y="254" width="1" height="1" fill="#000" shape-rendering="crispEdges"/>
<rect x="45" y="396" width="1" height="1" fill="#000" shape-rendering="crispEdges"/>
<rect x="97" y="245" width="1" height="1" fill="#000" shape-rendering="crispEdges"/>
<rect x="97" y="387" width="1" height="1" fill="#000" shape-rendering="crispEdges"/>
<rect x="109" y="243" width="1" height="1" fill="#000" shape-rendering="crispEdges"/>
<rect x="109" y="385" width="1" height="1" fill="#000" shape-rendering="crispEdges"/>
<rect x="161" y="234" width="1" height="1" fill="#000" shape-rendering="crispEdges"/>
<rect x="161" y="376" width="1" height="1" fill="#000" shape-rendering="crispEdges"/>
<rect x="173" y="232" width="1" height="1" fill="#000" shape-rendering="crispEdges"/>
<rect x="173" y="374" width="1" height="1" fill="#000" shape-rendering="crispEdges"/>
<rect x="225" y="223" width="1" height="1" fill="#000" shape-rendering="crispEdges"/>
<rect x="225" y="365" width="1" height="1" fill="#000" shape-rendering="crispEdges"/>
<rect x="237" y="221" width="1" height="1" fill="#000" shape-rendering="crispEdges"/>
<rect x="237" y="363" width="1" height="1" fill="#000" shape-rendering="crispEdges"/>
<rect x="289" y="212" width="1" height="1" fill="#000" shape-rendering="crispEdges"/>
<rect x="289" y="354" width="1" height="1" fill="#000" shape-rendering="crispEdges"/>
<rect x="301" y="210" width="1" height="1" fill="#000" shape-rendering="crispEdges"/>
<rect x="301" y="352" width="1" height="1" fill="#000" shape-rendering="crispEdges"/>
<rect x="353" y="201" width="1" height="1" fill="#000" shape-rendering="crispEdges"/>
<rect x="353" y="343" width="1" height="1" fill="#000" shape-rendering="crispEdges"/>
<rect x="365" y="199" width="1" height="1" fill="#000" shape-rendering="crispEdges"/>
<rect x="365" y="341" width="1" height="1" fill="#000" shape-rendering="crispEdges"/>
<rect x="417" y="190" width="1" height="1" fill="#000" shape-rendering="crispEdges"/>
<rect x="417" y="332" width="1" height="1" fill="#000" shape-rendering="crispEdges"/>
<rect x="429" y="188" width="1" height="1" fill="#000" shape-rendering="crispEdges"/>
<rect x="429" y="330" width="1" height="1" fill="#000" shape-rendering="crispEdges"/>
<rect x="481" y="179" width="1" height="1" fill="#000" shape-rendering="crispEdges"/>
<rect x="481" y="321" width="1" height="1" fill="#000" shape-rendering="crispEdges"/>
<rect x="493" y="177" width="1" height="1" fill="#000" shape-rendering="crispEdges"/>
<rect x="493" y="319" width="1" height="1" fill="#000" shape-rendering="crispEdges"/>
<rect x="545" y="168" width="1" height="1" fill="#000" shape-rendering="crispEdges"/>
<rect x="545" y="310" width="1" height="1" fill="#000" shape-rendering="crispEdges"/>
<rect x="557" y="166" width="1" height="1" fill="#000" shape-rendering="crispEdges"/>
<rect x="557" y="308" width="1" height="1" fill="#000" shape-rendering="crispEdges"/>
<rect x="609" y="157" width="1" height="1" fill="#000" shape-rendering="crispEdges"/>
<rect x="609" y="299" width="1" height="1" fill="#000" shape-rendering="crispEdges"/>
<rect x="621" y="155" width="1" height="1" fill="#000" shape-rendering="crispEdges"/>
<rect x="621" y="297" width="1" height="1" fill="#000" shape-rendering="crispEdges"/>
<rect x="673" y="146" width="1" height="1" fill="#000" shape-rendering="crispEdges"/>
<rect x="673" y="289" width="1" height="1" fill="#000" shape-rendering="crispEdges"/>
<rect x="685" y="144" width="1" height="1" fill="#000" shape-rendering="crispEdges"/>
<rect x="685" y="287" width="1" height="1" fill="#000" shape-rendering="crispEdges"/>
<circle cx="699" cy="283.5" r="3.8" fill="none" stroke="#ff0000" stroke-width="1"/>
<circle cx="699" cy="283" r="1.5" fill="#ff0000"/>
<g shape-rendering="crispEdges">
<rect x="0" y="0" width="716" height="1" fill="#000"/>
<rect x="0" y="432" width="716" height="1" fill="#000"/>
<rect x="0" y="434" width="716" height="1" fill="#000"/>
<rect x="0" y="479" width="716" height="1" fill="#000"/>
<rect x="715" y="0" width="1" height="433" fill="#000"/>
<rect x="715" y="434" width="1" height="46" fill="#000"/>
<rect x="716" y="33" width="2" height="1" fill="#000"/>
<rect x="716" y="66" width="2" height="1" fill="#000"/>
<rect x="716" y="99" width="2" height="1" fill="#000"/>
<rect x="716" y="132" width="2" height="1" fill="#000"/>
<rect x="716" y="165" width="2" height="1" fill="#000"/>
<rect x="716" y="198" width="2" height="1" fill="#000"/>
<rect x="716" y="231" width="2" height="1" fill="#000"/>
<rect x="716" y="264" width="2" height="1" fill="#000"/>
<rect x="716" y="297" width="2" height="1" fill="#000"/>
<rect x="716" y="330" width="2" height="1" fill="#000"/>
<rect x="716" y="363" width="2" height="1" fill="#000"/>
<rect x="716" y="396" width="2" height="1" fill="#000"/>
<rect x="716" y="429" width="2" height="1" fill="#000"/>
<rect x="716" y="436" width="1" height="1" fill="#000"/>
<rect x="63" y="480" width="1" height="3" fill="#000"/>
<rect x="127" y="480" width="1" height="3" fill="#000"/>
<rect x="191" y="480" width="1" height="3" fill="#000"/>
<rect x="255" y="480" width="1" height="3" fill="#000"/>
<rect x="319" y="480" width="1" height="3" fill="#000"/>
<rect x="383" y="480" width="1" height="3" fill="#000"/>
<rect x="447" y="480" width="1" height="3" fill="#000"/>
<rect x="511" y="480" width="1" height="3" fill="#000"/>
<rect x="575" y="480" width="1" height="3" fill="#000"/>
<rect x="639" y="480" width="1" height="3" fill="#000"/>
<rect x="703" y="480" width="1" height="3" fill="#000"/>
</g>
<text x="721.5" y="37" font-size="10" fill="#000" stroke="#000" stroke-width="0.15" style="font-family:'Liberation Sans',sans-serif" textLength="33" lengthAdjust="spacingAndGlyphs">1.14395</text>
<text x="721.5" y="70" font-size="10" fill="#000" stroke="#000" stroke-width="0.15" style="font-family:'Liberation Sans',sans-serif" textLength="33" lengthAdjust="spacingAndGlyphs">1.14130</text>
<text x="721.5" y="103" font-size="10" fill="#000" stroke="#000" stroke-width="0.15" style="font-family:'Liberation Sans',sans-serif" textLength="33" lengthAdjust="spacingAndGlyphs">1.13870</text>
<text x="721.5" y="136" font-size="10" fill="#000" stroke="#000" stroke-width="0.15" style="font-family:'Liberation Sans',sans-serif" textLength="33" lengthAdjust="spacingAndGlyphs">1.13605</text>
<text x="721.5" y="169" font-size="10" fill="#000" stroke="#000" stroke-width="0.15" style="font-family:'Liberation Sans',sans-serif" textLength="33" lengthAdjust="spacingAndGlyphs">1.13340</text>
<text x="721.5" y="202" font-size="10" fill="#000" stroke="#000" stroke-width="0.15" style="font-family:'Liberation Sans',sans-serif" textLength="33" lengthAdjust="spacingAndGlyphs">1.13075</text>
<text x="721.5" y="235" font-size="10" fill="#000" stroke="#000" stroke-width="0.15" style="font-family:'Liberation Sans',sans-serif" textLength="33" lengthAdjust="spacingAndGlyphs">1.12810</text>
<text x="721.5" y="268" font-size="10" fill="#000" stroke="#000" stroke-width="0.15" style="font-family:'Liberation Sans',sans-serif" textLength="33" lengthAdjust="spacingAndGlyphs">1.12550</text>
<text x="721.5" y="301" font-size="10" fill="#000" stroke="#000" stroke-width="0.15" style="font-family:'Liberation Sans',sans-serif" textLength="33" lengthAdjust="spacingAndGlyphs">1.12285</text>
<text x="721.5" y="334" font-size="10" fill="#000" stroke="#000" stroke-width="0.15" style="font-family:'Liberation Sans',sans-serif" textLength="33" lengthAdjust="spacingAndGlyphs">1.12020</text>
<text x="721.5" y="367" font-size="10" fill="#000" stroke="#000" stroke-width="0.15" style="font-family:'Liberation Sans',sans-serif" textLength="33" lengthAdjust="spacingAndGlyphs">1.11755</text>
<text x="721.5" y="400" font-size="10" fill="#000" stroke="#000" stroke-width="0.15" style="font-family:'Liberation Sans',sans-serif" textLength="33" lengthAdjust="spacingAndGlyphs">1.11490</text>
<text x="721.5" y="433" font-size="10" fill="#000" stroke="#000" stroke-width="0.15" style="font-family:'Liberation Sans',sans-serif" textLength="33" lengthAdjust="spacingAndGlyphs">1.11230</text>
<rect x="717" y="46" width="41" height="11" fill="#a9a9a9" shape-rendering="crispEdges"/>
<text x="721.5" y="55" font-size="10" fill="#fff" stroke="#fff" stroke-width="0.15" style="font-family:'Liberation Sans',sans-serif" textLength="33" lengthAdjust="spacingAndGlyphs">1.14250</text>
<rect x="717" y="114" width="41" height="11" fill="#a9a9a9" shape-rendering="crispEdges"/>
<text x="721.5" y="123" font-size="10" fill="#fff" stroke="#fff" stroke-width="0.15" style="font-family:'Liberation Sans',sans-serif" textLength="33" lengthAdjust="spacingAndGlyphs">1.13700</text>
<rect x="717" y="221" width="41" height="11" fill="#a9a9a9" shape-rendering="crispEdges"/>
<text x="721.5" y="230" font-size="10" fill="#fff" stroke="#fff" stroke-width="0.15" style="font-family:'Liberation Sans',sans-serif" textLength="33" lengthAdjust="spacingAndGlyphs">1.12850</text>
<rect x="717" y="239" width="41" height="11" fill="#a9a9a9" shape-rendering="crispEdges"/>
<text x="721.5" y="248" font-size="10" fill="#fff" stroke="#fff" stroke-width="0.15" style="font-family:'Liberation Sans',sans-serif" textLength="33" lengthAdjust="spacingAndGlyphs">1.12700</text>
<rect x="717" y="289" width="41" height="11" fill="#a9a9a9" shape-rendering="crispEdges"/>
<text x="721.5" y="298" font-size="10" fill="#fff" stroke="#fff" stroke-width="0.15" style="font-family:'Liberation Sans',sans-serif" textLength="33" lengthAdjust="spacingAndGlyphs">1.12300</text>
<rect x="717" y="314" width="41" height="11" fill="#a9a9a9" shape-rendering="crispEdges"/>
<text x="721.5" y="323" font-size="10" fill="#fff" stroke="#fff" stroke-width="0.15" style="font-family:'Liberation Sans',sans-serif" textLength="33" lengthAdjust="spacingAndGlyphs">1.12100</text>
<rect x="717" y="339" width="41" height="11" fill="#a9a9a9" shape-rendering="crispEdges"/>
<text x="721.5" y="348" font-size="10" fill="#fff" stroke="#fff" stroke-width="0.15" style="font-family:'Liberation Sans',sans-serif" textLength="33" lengthAdjust="spacingAndGlyphs">1.11900</text>
<rect x="717" y="412" width="41" height="11" fill="#000" shape-rendering="crispEdges"/>
<text x="721.5" y="420" font-size="10" fill="#fff" stroke="#fff" stroke-width="0.15" style="font-family:'Liberation Sans',sans-serif" textLength="33" lengthAdjust="spacingAndGlyphs">1.11329</text>
<path d="M2,7 L9,7 L5.5,11 Z" fill="#000"/>
<text x="14.3" y="12" font-size="10" fill="#000" stroke="#000" stroke-width="0.15" style="font-family:'Liberation Sans',sans-serif" textLength="54.5" lengthAdjust="spacingAndGlyphs">EURUSD,H4</text>
<text x="74.6" y="12" font-size="10" fill="#000" stroke="#000" stroke-width="0.15" style="font-family:'Liberation Sans',sans-serif" textLength="33" lengthAdjust="spacingAndGlyphs">1.11472</text>
<text x="110.6" y="12" font-size="10" fill="#000" stroke="#000" stroke-width="0.15" style="font-family:'Liberation Sans',sans-serif" textLength="33" lengthAdjust="spacingAndGlyphs">1.11481</text>
<text x="146.6" y="12" font-size="10" fill="#000" stroke="#000" stroke-width="0.15" style="font-family:'Liberation Sans',sans-serif" textLength="33" lengthAdjust="spacingAndGlyphs">1.11292</text>
<text x="182.6" y="12" font-size="10" fill="#000" stroke="#000" stroke-width="0.15" style="font-family:'Liberation Sans',sans-serif" textLength="33" lengthAdjust="spacingAndGlyphs">1.11329</text>
<g shape-rendering="crispEdges">
<rect x="2" y="450" width="3" height="1" fill="#00f87a"/>
<rect x="6" y="450" width="3" height="1" fill="#00f87a"/>
<rect x="10" y="450" width="3" height="1" fill="#00f87a"/>
<rect x="18" y="450" width="3" height="1" fill="#00f87a"/>
<rect x="22" y="449" width="3" height="2" fill="#00f87a"/>
<rect x="26" y="448" width="3" height="3" fill="#00f87a"/>
<rect x="30" y="449" width="3" height="2" fill="#00f87a"/>
<rect x="46" y="450" width="3" height="1" fill="#00f87a"/>
<rect x="66" y="452" width="3" height="1" fill="#00f87a"/>
<rect x="70" y="452" width="3" height="2" fill="#00f87a"/>
<rect x="74" y="452" width="3" height="1" fill="#00f87a"/>
<rect x="82" y="446" width="3" height="5" fill="#00f87a"/>
<rect x="86" y="439" width="3" height="12" fill="#00f87a"/>
<rect x="90" y="437" width="3" height="14" fill="#00f87a"/>
<rect x="94" y="439" width="3" height="12" fill="#00f87a"/>
<rect x="98" y="447" width="3" height="4" fill="#00f87a"/>
<rect x="102" y="450" width="3" height="1" fill="#00f87a"/>
<rect x="106" y="452" width="3" height="2" fill="#00f87a"/>
<rect x="110" y="452" width="3" height="6" fill="#00f87a"/>
<rect x="114" y="452" width="3" height="8" fill="#00f87a"/>
<rect x="118" y="452" width="3" height="17" fill="#00f87a"/>
<rect x="122" y="452" width="3" height="22" fill="#00f87a"/>
<rect x="126" y="452" width="3" height="25" fill="#00f87a"/>
<rect x="130" y="452" width="3" height="26" fill="#00f87a"/>
<rect x="134" y="452" width="3" height="25" fill="#00f87a"/>
<rect x="138" y="452" width="3" height="22" fill="#00f87a"/>
<rect x="142" y="452" width="3" height="19" fill="#00f87a"/>
<rect x="146" y="452" width="3" height="14" fill="#00f87a"/>
<rect x="150" y="452" width="3" height="8" fill="#00f87a"/>
<rect x="154" y="452" width="3" height="5" fill="#00f87a"/>
<rect x="158" y="452" width="3" height="2" fill="#00f87a"/>
<rect x="166" y="450" width="3" height="1" fill="#00f87a"/>
<rect x="170" y="449" width="3" height="2" fill="#00f87a"/>
<rect x="178" y="452" width="3" height="2" fill="#00f87a"/>
<rect x="182" y="452" width="3" height="5" fill="#00f87a"/>
<rect x="186" y="452" width="3" height="7" fill="#00f87a"/>
<rect x="190" y="452" width="3" height="10" fill="#00f87a"/>
<rect x="194" y="452" width="3" height="7" fill="#00f87a"/>
<rect x="198" y="452" width="3" height="7" fill="#00f87a"/>
<rect x="202" y="452" width="3" height="7" fill="#00f87a"/>
<rect x="206" y="452" width="3" height="6" fill="#00f87a"/>
<rect x="210" y="452" width="3" height="5" fill="#00f87a"/>
<rect x="214" y="452" width="3" height="2" fill="#00f87a"/>
<rect x="218" y="452" width="3" height="1" fill="#00f87a"/>
<rect x="222" y="452" width="3" height="4" fill="#00f87a"/>
<rect x="226" y="452" width="3" height="2" fill="#00f87a"/>
<rect x="230" y="452" width="3" height="2" fill="#00f87a"/>
<rect x="234" y="452" width="3" height="2" fill="#00f87a"/>
<rect x="238" y="452" width="3" height="1" fill="#00f87a"/>
<rect x="242" y="452" width="3" height="2" fill="#00f87a"/>
<rect x="250" y="450" width="3" height="1" fill="#00f87a"/>
<rect x="254" y="450" width="3" height="1" fill="#00f87a"/>
<rect x="258" y="448" width="3" height="3" fill="#00f87a"/>
<rect x="262" y="446" width="3" height="5" fill="#00f87a"/>
<rect x="266" y="443" width="3" height="8" fill="#00f87a"/>
<rect x="270" y="443" width="3" height="8" fill="#00f87a"/>
<rect x="274" y="446" width="3" height="5" fill="#00f87a"/>
<rect x="278" y="447" width="3" height="4" fill="#00f87a"/>
<rect x="282" y="449" width="3" height="2" fill="#00f87a"/>
<rect x="286" y="450" width="3" height="1" fill="#00f87a"/>
<rect x="290" y="452" width="3" height="1" fill="#00f87a"/>
<rect x="294" y="452" width="3" height="1" fill="#00f87a"/>
<rect x="298" y="452" width="3" height="1" fill="#00f87a"/>
<rect x="306" y="448" width="3" height="3" fill="#00f87a"/>
<rect x="310" y="446" width="3" height="5" fill="#00f87a"/>
<rect x="314" y="442" width="3" height="9" fill="#00f87a"/>
<rect x="318" y="440" width="3" height="11" fill="#00f87a"/>
<rect x="322" y="438" width="3" height="13" fill="#00f87a"/>
<rect x="326" y="439" width="3" height="12" fill="#00f87a"/>
<rect x="330" y="439" width="3" height="12" fill="#00f87a"/>
<rect x="334" y="440" width="3" height="11" fill="#00f87a"/>
<rect x="338" y="442" width="3" height="9" fill="#00f87a"/>
<rect x="342" y="446" width="3" height="5" fill="#00f87a"/>
<rect x="346" y="449" width="3" height="2" fill="#00f87a"/>
<rect x="350" y="450" width="3" height="1" fill="#00f87a"/>
<rect x="366" y="449" width="3" height="2" fill="#00f87a"/>
<rect x="374" y="452" width="3" height="1" fill="#00f87a"/>
<rect x="378" y="452" width="3" height="1" fill="#00f87a"/>
<rect x="382" y="450" width="3" height="1" fill="#00f87a"/>
<rect x="386" y="449" width="3" height="2" fill="#00f87a"/>
<rect x="390" y="446" width="3" height="5" fill="#00f87a"/>
<rect x="394" y="442" width="3" height="9" fill="#00f87a"/>
<rect x="398" y="442" width="3" height="9" fill="#00f87a"/>
<rect x="402" y="441" width="3" height="10" fill="#00f87a"/>
<rect x="406" y="441" width="3" height="10" fill="#00f87a"/>
<rect x="410" y="440" width="3" height="11" fill="#00f87a"/>
<rect x="414" y="441" width="3" height="10" fill="#00f87a"/>
<rect x="418" y="443" width="3" height="8" fill="#00f87a"/>
<rect x="422" y="446" width="3" height="5" fill="#00f87a"/>
<rect x="426" y="449" width="3" height="2" fill="#00f87a"/>
<rect x="438" y="452" width="3" height="2" fill="#00f87a"/>
<rect x="442" y="452" width="3" height="1" fill="#00f87a"/>
<rect x="454" y="450" width="3" height="1" fill="#00f87a"/>
<rect x="458" y="450" width="3" height="1" fill="#00f87a"/>
<rect x="466" y="452" width="3" height="2" fill="#00f87a"/>
<rect x="470" y="452" width="3" height="5" fill="#00f87a"/>
<rect x="474" y="452" width="3" height="2" fill="#00f87a"/>
<rect x="478" y="452" width="3" height="1" fill="#00f87a"/>
<rect x="482" y="448" width="3" height="3" fill="#00f87a"/>
<rect x="486" y="445" width="3" height="6" fill="#00f87a"/>
<rect x="490" y="445" width="3" height="6" fill="#00f87a"/>
<rect x="494" y="445" width="3" height="6" fill="#00f87a"/>
<rect x="498" y="445" width="3" height="6" fill="#00f87a"/>
<rect x="502" y="446" width="3" height="5" fill="#00f87a"/>
<rect x="506" y="446" width="3" height="5" fill="#00f87a"/>
<rect x="510" y="447" width="3" height="4" fill="#00f87a"/>
<rect x="514" y="449" width="3" height="2" fill="#00f87a"/>
<rect x="522" y="452" width="3" height="1" fill="#00f87a"/>
<rect x="526" y="452" width="3" height="2" fill="#00f87a"/>
<rect x="530" y="452" width="3" height="3" fill="#00f87a"/>
<rect x="534" y="452" width="3" height="5" fill="#00f87a"/>
<rect x="538" y="452" width="3" height="7" fill="#00f87a"/>
<rect x="542" y="452" width="3" height="9" fill="#00f87a"/>
<rect x="546" y="452" width="3" height="9" fill="#00f87a"/>
<rect x="550" y="452" width="3" height="7" fill="#00f87a"/>
<rect x="554" y="452" width="3" height="4" fill="#00f87a"/>
<rect x="558" y="452" width="3" height="2" fill="#00f87a"/>
<rect x="562" y="452" width="3" height="1" fill="#00f87a"/>
<rect x="566" y="452" width="3" height="2" fill="#00f87a"/>
<rect x="570" y="452" width="3" height="2" fill="#00f87a"/>
<rect x="574" y="452" width="3" height="2" fill="#00f87a"/>
<rect x="578" y="452" width="3" height="6" fill="#00f87a"/>
<rect x="582" y="452" width="3" height="11" fill="#00f87a"/>
<rect x="586" y="452" width="3" height="15" fill="#00f87a"/>
<rect x="590" y="452" width="3" height="17" fill="#00f87a"/>
<rect x="594" y="452" width="3" height="17" fill="#00f87a"/>
<rect x="598" y="452" width="3" height="15" fill="#00f87a"/>
<rect x="602" y="452" width="3" height="12" fill="#00f87a"/>
<rect x="606" y="452" width="3" height="10" fill="#00f87a"/>
<rect x="610" y="452" width="3" height="6" fill="#00f87a"/>
<rect x="614" y="452" width="3" height="2" fill="#00f87a"/>
<rect x="618" y="452" width="3" height="1" fill="#00f87a"/>
<rect x="626" y="450" width="3" height="1" fill="#00f87a"/>
<rect x="630" y="448" width="3" height="3" fill="#00f87a"/>
<rect x="634" y="447" width="3" height="4" fill="#00f87a"/>
<rect x="638" y="444" width="3" height="7" fill="#00f87a"/>
<rect x="642" y="446" width="3" height="5" fill="#00f87a"/>
<rect x="646" y="446" width="3" height="5" fill="#00f87a"/>
<rect x="650" y="446" width="3" height="5" fill="#00f87a"/>
<rect x="654" y="450" width="3" height="1" fill="#00f87a"/>
<rect x="658" y="452" width="3" height="2" fill="#00f87a"/>
<rect x="662" y="452" width="3" height="3" fill="#00f87a"/>
<rect x="666" y="452" width="3" height="4" fill="#00f87a"/>
<rect x="670" y="452" width="3" height="4" fill="#00f87a"/>
<rect x="674" y="452" width="3" height="4" fill="#00f87a"/>
<rect x="678" y="452" width="3" height="5" fill="#00f87a"/>
<rect x="682" y="452" width="3" height="10" fill="#00f87a"/>
<rect x="686" y="452" width="3" height="13" fill="#00f87a"/>
<rect x="690" y="452" width="3" height="14" fill="#00f87a"/>
<rect x="694" y="452" width="3" height="14" fill="#00f87a"/>
<rect x="698" y="452" width="3" height="13" fill="#00f87a"/>
<rect x="702" y="452" width="3" height="14" fill="#00f87a"/>
<line x1="0" y1="444.5" x2="715" y2="444.5" stroke="#c0c0c0" stroke-width="1" stroke-dasharray="3 3"/>
<line x1="0" y1="470.5" x2="715" y2="470.5" stroke="#c0c0c0" stroke-width="1" stroke-dasharray="3 3"/>
<rect x="0" y="451" width="715" height="1" fill="#7a8391"/>
</g>
<polyline points="0,451 3,452 7,448.3 11,452.9 15,455.7 19,455.2 23,452 27,448.8 31,447.9 35,453.4 39,458.9 43,461.7 47,458 51,453.4 55,451.1 59,450.5 63,451.9 67,455 71,457.7 75,456.1 79,454.5 83,449.8 87,445.6 91,445 95,445 99,447.7 103,454 107,461.4 111,464.5 115,465 119,464.5 123,465.6 127,468.2 131,470.3 135,469.8 139,468.7 143,465.6 147,459.3 151,451.9 155,446.1 159,446.6 163,449.8 167,454 171,457.2 175,462.4 179,466.6 183,470.8 187,473.5 191,475.6 195,473 199,469.3 203,465.6 207,464.5 211,465.6 215,469.8 219,469.8 223,467.7 227,465 231,465.6 235,464.5 239,465 243,465.6 247,464 251,463 255,461.9 259,461.9 263,459.8 267,456.1 271,451.9 275,450.8 279,458 283,467.7 287,470.3 291,471.9 295,469.8 299,465.6 303,459.3 307,453 311,446.6 315,441.9 319,440.8 323,441.9 327,445 331,447.2 335,451.4 339,454 343,457.7 347,462.4 351,466.1 355,465.6 359,463.5 363,458.7 367,454 371,451.4 375,455 379,460.3 383,465.6 387,463 391,456.1 395,448.7 399,442.4 403,442.4 407,444 411,444.5 415,444 419,443.5 423,448.7 427,457.7 431,464 435,467.7 439,467.7 443,462.4 447,456.1 451,450.8 455,447.2 459,444.5 463,445 467,450.8 471,456.6 475,462.4 479,463.5 483,456.1 487,446.6 491,440.8 495,442.4 499,448.7 503,453 507,453 511,453 515,449.8 519,450.8 523,456.6 527,461.4 531,461.4 535,460.3 539,461.4 543,465.6 547,467.7 551,468.2 555,463 559,457.2 563,451.4 567,456.1 571,461.9 575,466.6 579,468.5 583,469.8 587,472.4 591,474.5 595,475.6 599,473 603,466.6 607,460.3 611,453 615,447.7 619,445 623,449.8 627,452.4 631,454.5 635,451.4 639,447.7 643,446.1 647,450.8 651,458.2 655,463.7 659,468.6 663,466.3 667,463.5 671,462.2 675,460.8 679,460.8 683,463.1 687,468.6 691,471.9 695,472.3 699,471.9 703,471.4" fill="none" stroke="#ff0000" stroke-width="1" stroke-dasharray="3 3" shape-rendering="crispEdges"/>
<polyline points="0,446 3,447.4 7,452 11,456.2 15,455.4 19,454.3 23,448.8 27,445.5 31,451.1 35,458.5 39,466.3 43,460.8 47,453.4 51,450.2 55,448.3 59,453 63,453.5 67,459.3 71,458.2 75,453.5 79,448.7 83,445.6 87,445 91,444 95,445 99,451.9 103,461.4 107,467.2 111,467.5 115,461.4 119,464 123,468.7 127,470.6 131,470.3 135,470.3 139,468.7 143,464 147,450.8 151,444 155,444.5 159,450.3 163,453 167,459.8 171,460.3 175,468.7 179,470.8 183,474 187,475 191,476.1 195,470.8 199,465.6 203,461.4 207,466 211,469.8 215,470.3 219,464.5 223,465 227,463.5 231,467.5 235,464.5 239,464.5 243,466.1 247,461.4 251,463 255,461.4 259,462.4 263,458.7 267,449.8 271,447.2 275,455 279,464 283,473 287,471.4 291,472.4 295,468.7 299,464 303,455 307,449.3 311,443 315,437.2 319,441.9 323,443.5 327,449.8 331,449.3 335,453 339,455 343,464.5 347,467.5 351,467.2 355,464.5 359,460.3 363,453 367,447.7 371,452.4 375,462.4 379,471.9 383,465.6 387,458.2 391,446.1 395,440.8 399,440.8 403,443.5 407,445.6 411,444.5 415,441.4 419,443 423,451.9 427,465.6 431,472.4 435,466.6 439,466.1 443,456.1 447,451.9 451,444.5 455,443.5 459,442.4 463,447.7 467,456.1 471,474 475,464.5 479,453.5 483,441.9 487,438.7 491,441.9 495,446.6 499,453 503,457.2 507,454 511,449.8 515,449.8 519,456.1 523,463.3 527,463.5 531,459.3 535,457.2 539,461.4 543,468.7 547,473 551,464.5 555,453.5 559,448.2 563,452.4 567,460.3 571,466.6 575,469.3 579,468.7 583,470.3 587,473.5 591,476.6 595,474.5 599,469.8 603,461.9 607,451.4 611,443.5 615,443.5 619,446.6 623,457.2 627,456.1 631,452.4 635,444.5 639,444 643,447.7 647,456.1 651,463.5 655,471.4 659,468.6 663,465.9 667,463.1 671,461.2 675,460.3 679,460.3 683,465.4 687,472.8 691,473.2 695,471.4 699,471.4 703,471.4" fill="none" stroke="#0000ff" stroke-width="1" shape-rendering="crispEdges"/>
<text x="3.5" y="447" font-size="10" fill="#000" stroke="#000" stroke-width="0.15" style="font-family:'Liberation Sans',sans-serif" textLength="112.5" lengthAdjust="spacingAndGlyphs">OsMA(12,26,9) -0.0009808</text>
<text x="122.5" y="447" font-size="10" fill="#000" stroke="#000" stroke-width="0.15" style="font-family:'Liberation Sans',sans-serif" textLength="121.5" lengthAdjust="spacingAndGlyphs">Stoch(5,3,3) 16.9421 16.9369</text>
<text x="719.5" y="445" font-size="10" fill="#000" stroke="#000" stroke-width="0.15" style="font-family:'Liberation Sans',sans-serif" textLength="41" lengthAdjust="spacingAndGlyphs">0.0009943</text>
<text x="718.5" y="447.5" font-size="10" fill="#000" stroke="#000" stroke-width="0.15" style="font-family:'Liberation Sans',sans-serif" textLength="9.5" lengthAdjust="spacingAndGlyphs">80</text>
<rect x="717" y="446" width="7" height="11" fill="#7a8391" shape-rendering="crispEdges"/>
<text x="718.5" y="455" font-size="10" fill="#000" stroke="#000" stroke-width="0.15" style="font-family:'Liberation Sans',sans-serif" textLength="18.5" lengthAdjust="spacingAndGlyphs">0.00</text>
<text x="718.5" y="474" font-size="10" fill="#000" stroke="#000" stroke-width="0.15" style="font-family:'Liberation Sans',sans-serif" textLength="9.5" lengthAdjust="spacingAndGlyphs">20</text>
<text x="721" y="474.5" font-size="10" fill="#000" stroke="#000" stroke-width="0.15" style="font-family:'Liberation Sans',sans-serif" textLength="39" lengthAdjust="spacingAndGlyphs">-0.001774</text>
<text x="-2.0" y="492" font-size="10" fill="#000" stroke="#000" stroke-width="0.15" style="font-family:'Liberation Sans',sans-serif" textLength="51.8" lengthAdjust="spacingAndGlyphs">15 Mar 2019</text>
<text x="62" y="492" font-size="10" fill="#000" stroke="#000" stroke-width="0.15" style="font-family:'Liberation Sans',sans-serif" textLength="55" lengthAdjust="spacingAndGlyphs">20 Mar 00:00</text>
<text x="126" y="492" font-size="10" fill="#000" stroke="#000" stroke-width="0.15" style="font-family:'Liberation Sans',sans-serif" textLength="55" lengthAdjust="spacingAndGlyphs">22 Mar 16:00</text>
<text x="190" y="492" font-size="10" fill="#000" stroke="#000" stroke-width="0.15" style="font-family:'Liberation Sans',sans-serif" textLength="55" lengthAdjust="spacingAndGlyphs">27 Mar 04:00</text>
<text x="254" y="492" font-size="10" fill="#000" stroke="#000" stroke-width="0.15" style="font-family:'Liberation Sans',sans-serif" textLength="55" lengthAdjust="spacingAndGlyphs">29 Mar 20:00</text>
<text x="318" y="492" font-size="10" fill="#000" stroke="#000" stroke-width="0.15" style="font-family:'Liberation Sans',sans-serif" textLength="49" lengthAdjust="spacingAndGlyphs">3 Apr 12:00</text>
<text x="382" y="492" font-size="10" fill="#000" stroke="#000" stroke-width="0.15" style="font-family:'Liberation Sans',sans-serif" textLength="49" lengthAdjust="spacingAndGlyphs">8 Apr 04:00</text>
<text x="446" y="492" font-size="10" fill="#000" stroke="#000" stroke-width="0.15" style="font-family:'Liberation Sans',sans-serif" textLength="54" lengthAdjust="spacingAndGlyphs">10 Apr 20:00</text>
<text x="510" y="492" font-size="10" fill="#000" stroke="#000" stroke-width="0.15" style="font-family:'Liberation Sans',sans-serif" textLength="54" lengthAdjust="spacingAndGlyphs">15 Apr 12:00</text>
<text x="574" y="492" font-size="10" fill="#000" stroke="#000" stroke-width="0.15" style="font-family:'Liberation Sans',sans-serif" textLength="54" lengthAdjust="spacingAndGlyphs">18 Apr 04:00</text>
<text x="638" y="492" font-size="10" fill="#000" stroke="#000" stroke-width="0.15" style="font-family:'Liberation Sans',sans-serif" textLength="54" lengthAdjust="spacingAndGlyphs">22 Apr 20:00</text>
<text x="702" y="492" font-size="10" fill="#000" stroke="#000" stroke-width="0.15" style="font-family:'Liberation Sans',sans-serif" textLength="54" lengthAdjust="spacingAndGlyphs">25 Apr 12:00</text>
</svg></body></html>
